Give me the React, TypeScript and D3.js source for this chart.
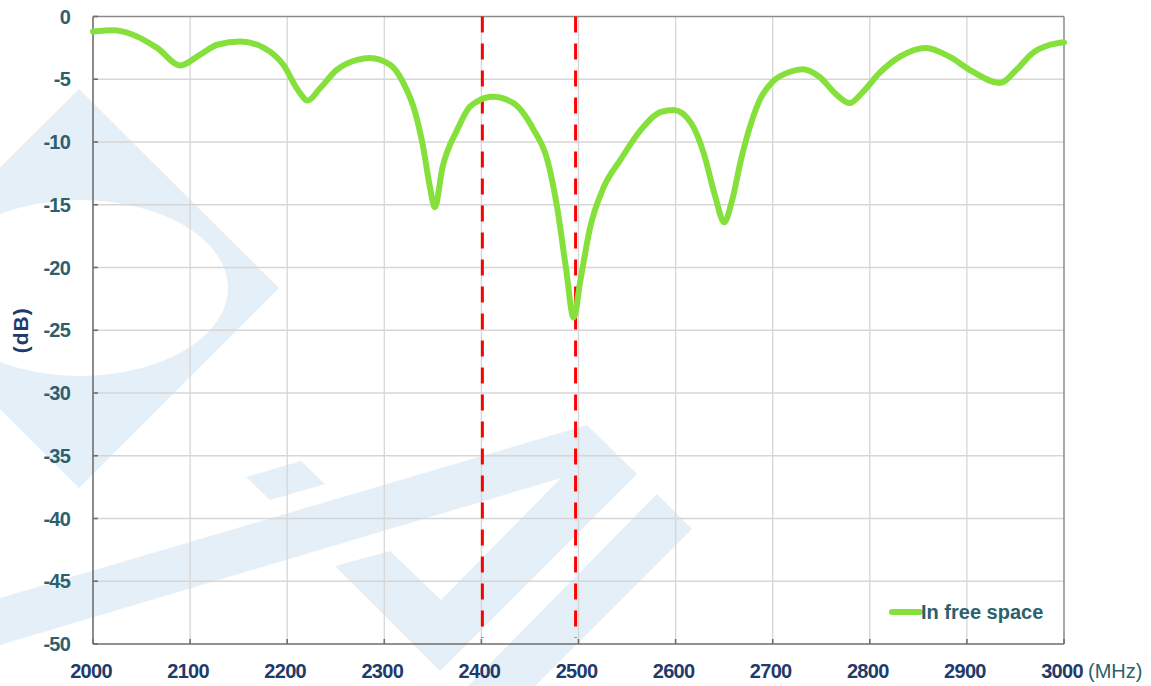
import React from 'react';
import * as d3 from 'd3';

// frequency (MHz) / return loss (dB)
const freq = [
  2000, 2021, 2041, 2066, 2090, 2110, 2128, 2152, 2176, 2196, 2211, 2221,
  2234, 2251, 2272, 2285, 2306, 2319, 2332, 2340, 2347, 2352, 2360, 2375,
  2388, 2395, 2412, 2433, 2454, 2468, 2478, 2487, 2495, 2502, 2512, 2526,
  2543, 2564, 2585, 2598, 2616, 2629, 2641, 2650, 2658, 2668, 2679, 2687,
  2700, 2718, 2731, 2748, 2766, 2779, 2793, 2810, 2831, 2858, 2882, 2906,
  2934, 2951, 2968, 2986, 3000,
];
const freeSpace = [
  -1.2, -1.1, -1.45, -2.5, -3.9, -3.05, -2.25, -2.0, -2.5, -3.85, -5.85, -6.7,
  -5.7, -4.25, -3.45, -3.3, -3.85, -5.2, -7.7, -10.4, -13.6, -15.2, -12.0, -9.05,
  -7.2, -6.8, -6.4, -6.9, -9.05, -11.45, -15.2, -20.0, -24.0, -21.0, -16.8, -13.6,
  -11.45, -9.05, -7.6, -7.45, -8.5, -10.9, -14.4, -16.4, -14.7, -11.2, -8.2, -6.6,
  -5.2, -4.4, -4.2, -4.8, -6.25, -6.9, -6.0, -4.5, -3.2, -2.5, -3.2, -4.4,
  -5.3, -4.25, -2.9, -2.25, -2.05,
];
const markers = [2401, 2497];
const xTicks = [2000, 2100, 2200, 2300, 2400, 2500, 2600, 2700, 2800, 2900, 3000];
const yTicks = [0, -5, -10, -15, -20, -25, -30, -35, -40, -45, -50];
const seriesName = 'In free space';

const W = 1151;
const H = 686;
const margin = { left: 93, right: 87, top: 16.5, bottom: 42 };
const font = '"Liberation Sans", Arial, sans-serif';
const teal = '#2d5f6c';
const navy = '#1f3b6b';
const green = '#86e03c';
const wm = '#e5eff7';

export default function App() {
  const x = d3.scaleLinear().domain([2000, 3000]).range([margin.left, W - margin.right]);
  const y = d3.scaleLinear().domain([-50, 0]).range([H - margin.bottom, margin.top]);
  const pts = freq.map((f, i) => [f, freeSpace[i]] as [number, number]);
  const line = d3
    .line<[number, number]>()
    .x((d) => x(d[0]))
    .y((d) => y(d[1]))
    .curve(d3.curveMonotoneX);

  const x0 = x(2000);
  const x1 = x(3000);
  const y0 = y(0);
  const y1 = y(-50);

  // watermark outline (decoration only)
  const diamond = 'M79,89 L279,288 L79,488 L-121,288 Z M228,288 A148,88 0 1,0 -68,288 A148,88 0 1,0 228,288 Z';

  return (
    <svg width={W} height={H} style={{ position: 'absolute', left: 0, top: 0, background: '#fff' }}>
      <g fill={wm}>
        <path d={diamond} fillRule="evenodd" />
        <polygon points="-10,601 587,425 637,474 440,671 335,566 390,551 441,600 561,478 -10,648" />
        <polygon points="657,494 692,529 535,686 468,686" />
        <polygon points="246,477 301,461 325,484 270,500" />
      </g>

      {/* grid */}
      <g stroke="#d6d6d6" strokeWidth={1.3}>
        {xTicks.slice(1, -1).map((t) => (
          <line key={'gx' + t} x1={x(t)} x2={x(t)} y1={y0} y2={y1} />
        ))}
        {yTicks.slice(1, -1).map((t) => (
          <line key={'gy' + t} x1={x0} x2={x1} y1={y(t)} y2={y(t)} />
        ))}
      </g>

      {/* frame + ticks */}
      <g stroke="#8a8a8a" strokeWidth={1.5} fill="none">
        <line x1={x0} x2={x1} y1={y0} y2={y0} />
        <line x1={x1} x2={x1} y1={y0} y2={y1} />
      </g>
      <g stroke="#6e6e6e" strokeWidth={1.6}>
        <line x1={x0} x2={x0} y1={y0} y2={y1} />
        <line x1={x0} x2={x1} y1={y1} y2={y1} />
        {yTicks.map((t) => (
          <line key={'ty' + t} x1={x0} x2={x0 + 5} y1={y(t)} y2={y(t)} />
        ))}
        {xTicks.map((t) => (
          <line key={'tx' + t} x1={x(t)} x2={x(t)} y1={y1} y2={y1 - 5} />
        ))}
      </g>

      {/* band markers */}
      {markers.map((m) => (
        <line
          key={'m' + m}
          x1={x(m)}
          x2={x(m)}
          y1={y0}
          y2={y1 - 6}
          stroke="#ff0000"
          strokeWidth={3}
          strokeDasharray="16 11"
        />
      ))}

      <path d={line(pts) || ''} fill="none" stroke={green} strokeWidth={6} strokeLinejoin="round" strokeLinecap="round" />

      {/* y labels */}
      <g fontFamily={font} fontWeight="bold" fontSize={20} fill={teal} textAnchor="end">
        {yTicks.map((t) => (
          <text key={'ly' + t} x={70} y={y(t)} dy="0.36em" letterSpacing={-0.8}>
            {t}
          </text>
        ))}
      </g>
      <text
        transform={`translate(28,${(y0 + y1) / 2}) rotate(-90)`}
        textAnchor="middle"
        fontFamily={font}
        fontWeight="bold"
        fontSize={21}
        fill={navy}
        letterSpacing={1}
      >
        (dB)
      </text>

      {/* x labels */}
      <g fontFamily={font} fontWeight="bold" fontSize={20} fill={navy} textAnchor="middle">
        {xTicks.map((t) => (
          <text key={'lx' + t} x={x(t) - 2} y={678} letterSpacing={-0.7}>
            {t}
          </text>
        ))}
      </g>
      <text x={1088} y={678} fontFamily={font} fontSize={20} fill={teal}>
        (MHz)
      </text>

      {/* legend */}
      <line x1={892} x2={920} y1={612} y2={612} stroke={green} strokeWidth={6} strokeLinecap="round" />
      <text x={921} y={619} fontFamily={font} fontWeight="bold" fontSize={20} fill={teal}>
        {seriesName}
      </text>
    </svg>
  );
}
